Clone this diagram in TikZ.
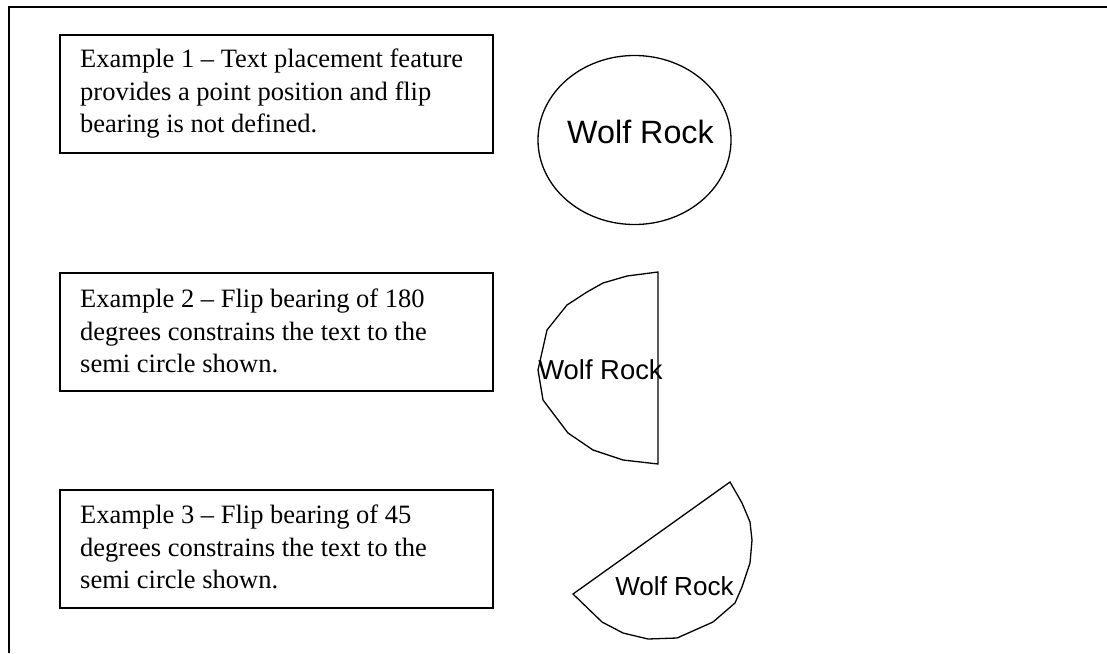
\documentclass[tikz,border=0pt]{standalone}
\usepackage{fontspec}
\setmainfont{Liberation Serif}
\newfontfamily\arialfont{Liberation Sans}
\begin{document}
\begin{tikzpicture}[x=1pt,y=-1pt,
  frameline/.style={line width=1.8pt},
  textbox/.style={draw, line width=1.6pt, anchor=north west, inner sep=0pt, minimum width=433pt, minimum height=118pt},
  boxtext/.style={anchor=north west, inner sep=0pt, align=left, font=\fontsize{26.5}{32.2}\selectfont},
  shapeline/.style={line width=1.3pt, line join=miter},
  wolf/.style={anchor=base, inner sep=0pt}
]
\useasboundingbox (0,0) rectangle (1107,653);
% outer frame (only top and left edges visible)
\coordinate (fbl) at (9,653);
\coordinate (ftl) at (9,7);
\coordinate (ftr) at (1107,7);
\draw[frameline] (fbl) -- (ftl) -- (ftr);

% text boxes
\node[textbox] (b1) at (59,34) {};
\node[boxtext] (t1) at (80,49) {Example 1 -- Text placement feature\\provides a point position and flip\\bearing is not defined.};
\node[textbox] (b2) at (59,272) {};
\node[boxtext] (t2) at (80,289) {Example 2 -- Flip bearing of 180\\degrees constrains the text to the\\semi circle shown.};
\node[textbox] (b3) at (59,489) {};
\node[boxtext] (t3) at (80,505) {Example 3 -- Flip bearing of 45\\degrees constrains the text to the\\semi circle shown.};

% example 1: ellipse
\draw[shapeline] (634.5,140) ellipse [x radius=96.5, y radius=84.5];
\node[wolf, font=\arialfont\fontsize{32.3}{38}\selectfont] (w1) at (640.5,143) {Wolf Rock};

% example 2: half ellipse (flip bearing 180)
\draw[shapeline] (658,272) -- (627,276) -- (603,283) -- (587,292) -- (567,305) -- (547,330)
  -- (538,370) -- (543,400) -- (568,433) -- (593,450) -- (623,460) -- (658,464) -- cycle;
\node[wolf, font=\arialfont\fontsize{27.4}{33}\selectfont] (w2) at (600.5,379) {Wolf Rock};

% example 3: half ellipse (flip bearing 45)
\draw[shapeline] (730,482) -- (742,503) -- (750,522) -- (752,540) -- (750,563) -- (742,587)
  -- (735,603) -- (713,622) -- (677,638) -- (648,639) -- (623,633) -- (602,622) -- (573,594) -- cycle;
\node[wolf, font=\arialfont\fontsize{26.1}{31}\selectfont] (w3) at (674.5,595) {Wolf Rock};
\end{tikzpicture}
\end{document}
